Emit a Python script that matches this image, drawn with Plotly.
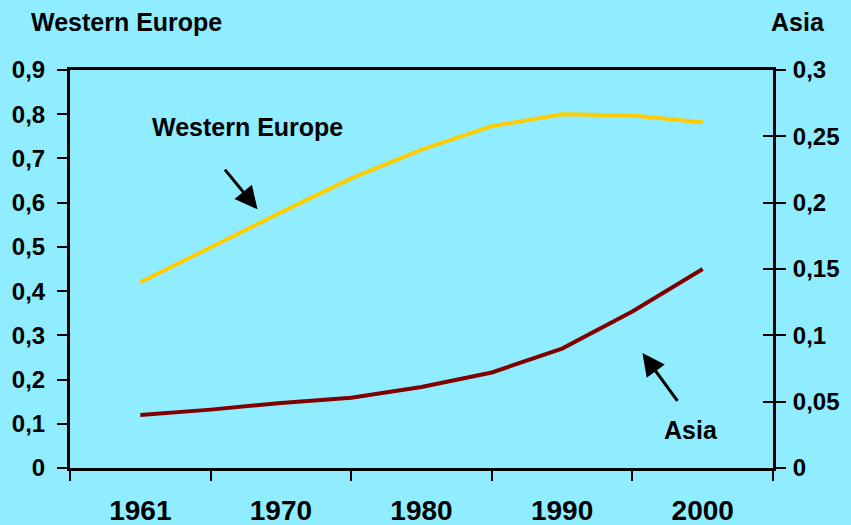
import plotly.graph_objects as go

# Five-year observations (first step 1961 -> 1965)
years = [1961, 1965, 1970, 1975, 1980, 1985, 1990, 1995, 2000]
western_europe = [0.42, 0.50, 0.578, 0.655, 0.72, 0.773, 0.80, 0.797, 0.782]
asia = [0.040, 0.044, 0.049, 0.053, 0.061, 0.072, 0.090, 0.118, 0.150]

# Labelled years on the category-style x axis
label_years = [1961, 1970, 1980, 1990, 2000]

left_ticks = [0, 0.1, 0.2, 0.3, 0.4, 0.5, 0.6, 0.7, 0.8, 0.9]
right_ticks = [0, 0.05, 0.1, 0.15, 0.2, 0.25, 0.3]

BG = "#90EDFF"
FONT = "Liberation Sans, Arial, sans-serif"

pos = list(range(len(years)))
label_pos = [years.index(y) for y in label_years]
boundaries = [p - 1 for p in label_pos] + [label_pos[-1] + 1]


def fmt(v):
    return ("%g" % v).replace(".", ",")


fig = go.Figure()
fig.add_trace(go.Scatter(x=pos, y=western_europe, mode="lines",
                         line=dict(color="#FFCC00", width=4), yaxis="y"))
fig.add_trace(go.Scatter(x=pos, y=asia, mode="lines",
                         line=dict(color="#800000", width=4), yaxis="y2"))

tickfont = dict(family=FONT, size=24, color="black", weight="bold")

fig.update_layout(
    width=851, height=525,
    margin=dict(l=70, r=78, t=70, b=57),
    paper_bgcolor=BG, plot_bgcolor=BG,
    showlegend=False,
    xaxis=dict(
        range=[boundaries[0], boundaries[-1]],
        tickmode="array", tickvals=label_pos,
        ticktext=[str(y) for y in label_years],
        ticks="", showgrid=False, zeroline=False, automargin=False,
        showline=True, linecolor="black", linewidth=3, mirror=True,
        tickfont=dict(family=FONT, size=28, color="black", weight="bold"),
        ticklabelstandoff=15,
        minor=dict(tickmode="array", tickvals=boundaries, ticks="outside",
                   ticklen=10, tickwidth=2, tickcolor="black", showgrid=False),
    ),
    yaxis=dict(
        range=[0, 0.9], tickmode="array", tickvals=left_ticks,
        ticktext=[fmt(v) for v in left_ticks],
        ticks="outside", ticklen=10, tickwidth=2, tickcolor="black",
        showgrid=False, zeroline=False, automargin=False,
        showline=True, linecolor="black", linewidth=3,
        tickfont=tickfont, ticklabelstandoff=7,
    ),
    yaxis2=dict(
        range=[0, 0.3], overlaying="y", side="right",
        tickmode="array", tickvals=right_ticks,
        ticktext=[fmt(v) for v in right_ticks],
        ticks="outside", ticklen=10, tickwidth=2, tickcolor="black",
        showgrid=False, zeroline=False, automargin=False,
        showline=True, linecolor="black", linewidth=3,
        tickfont=tickfont, ticklabelstandoff=2,
    ),
    yaxis3=dict(
        range=[0, 0.3], overlaying="y", side="right", anchor="x",
        tickmode="array", tickvals=right_ticks[1:-1],
        ticks="inside", ticklen=10, tickwidth=2, tickcolor="black",
        showticklabels=False, showgrid=False, zeroline=False, showline=False,
        automargin=False,
    ),
)

# Invisible trace so the inside right-hand ticks are drawn
fig.add_trace(go.Scatter(x=[pos[0]], y=[0], mode="none", yaxis="y3",
                         hoverinfo="skip"))

title_font = dict(family=FONT, size=25, color="black", weight="bold")

# Axis captions
fig.add_annotation(text="Western Europe", xref="paper", yref="paper",
                   x=0.081, y=1.12, showarrow=False, font=title_font,
                   xanchor="center", yanchor="middle")
fig.add_annotation(text="Asia", xref="paper", yref="paper",
                   x=1.0356, y=1.12, showarrow=False, font=title_font,
                   xanchor="center", yanchor="middle")

# Series labels with pointer arrows
fig.add_annotation(text="Western Europe", x=1.52, y=0.770, xref="x", yref="y",
                   showarrow=False, font=title_font)
fig.add_annotation(x=1.667, y=0.585, ax=1.186, ay=0.678,
                   xref="x", yref="y", axref="x", ayref="y",
                   showarrow=True, arrowhead=2, arrowsize=1.5, arrowwidth=3,
                   arrowcolor="black", text="")
fig.add_annotation(text="Asia", x=7.84, y=0.0867, xref="x", yref="y",
                   showarrow=False, font=title_font)
fig.add_annotation(x=7.143, y=0.26, ax=7.657, ay=0.1485,
                   xref="x", yref="y", axref="x", ayref="y",
                   showarrow=True, arrowhead=2, arrowsize=1.5, arrowwidth=3,
                   arrowcolor="black", text="")

fig.write_html("out.html")
